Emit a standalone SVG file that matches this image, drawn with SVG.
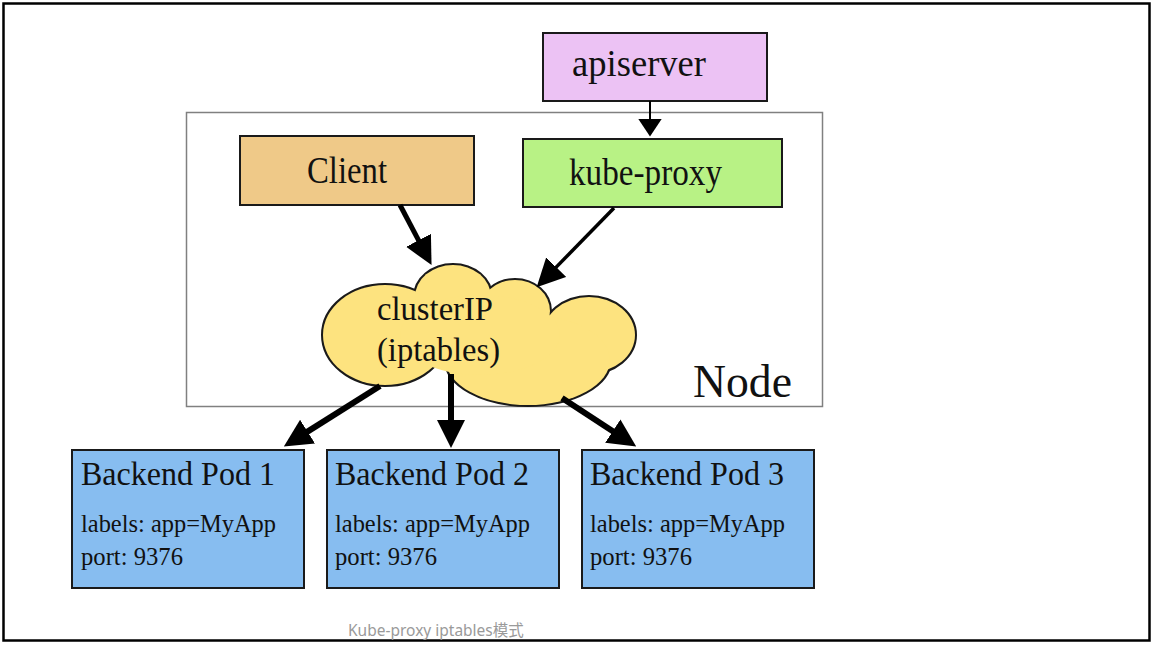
<svg xmlns="http://www.w3.org/2000/svg" width="1157" height="647" viewBox="0 0 1157 647">
<style>
.box{stroke:#1a1a1a;stroke-width:2}
.t{font-family:"Liberation Serif","Times New Roman",serif;fill:#111}
.edge{stroke:#000;fill:none}
.cap{font-family:"Noto Sans","Noto Sans CJK SC",sans-serif;font-size:15.5px;fill:#9a9a9a}
</style>
<defs>
<marker id="head" markerUnits="userSpaceOnUse" viewBox="0 0 28 28" markerWidth="28" markerHeight="28" refX="1" refY="14" orient="auto">
<path d="M0,0 L28,14 L0,28 z" fill="#000"/>
</marker>
<marker id="headSmall" markerUnits="userSpaceOnUse" viewBox="0 0 18 24" markerWidth="18" markerHeight="24" refX="1" refY="12" orient="auto">
<path d="M0,0 L18,12 L0,24 z" fill="#000"/>
</marker>
</defs>
<rect x="0" y="0" width="1157" height="647" fill="#fff"/>
<rect x="3.5" y="3.5" width="1146" height="637" fill="none" stroke="#000" stroke-width="2.5"/>

<g id="node-frame">
<rect x="186.5" y="112.5" width="636" height="294" fill="#fff" stroke="#808080" stroke-width="1.5"/>
<text class="t" x="693" y="397" font-size="46" textLength="99" lengthAdjust="spacingAndGlyphs">Node</text>
</g>

<g id="apiserver">
<rect class="box" x="543" y="33" width="224" height="68" fill="#ecc2f4"/>
<text class="t" x="572" y="76" font-size="37" textLength="134" lengthAdjust="spacingAndGlyphs">apiserver</text>
</g>

<g id="client">
<rect class="box" x="240" y="136" width="234" height="69" fill="#efc988"/>
<text class="t" x="307" y="183" font-size="37" textLength="80" lengthAdjust="spacingAndGlyphs">Client</text>
</g>

<g id="kube-proxy">
<rect class="box" x="523" y="139" width="259" height="68" fill="#b8f285"/>
<text class="t" x="569" y="185" font-size="37" textLength="153" lengthAdjust="spacingAndGlyphs">kube-proxy</text>
</g>

<g id="cluster-ip">
<g fill="none" stroke="#1a1a1a" stroke-width="4">
<ellipse cx="385" cy="335" rx="62" ry="50"/>
<ellipse cx="453" cy="297" rx="38" ry="32"/>
<ellipse cx="515" cy="311" rx="35" ry="31"/>
<ellipse cx="589" cy="335" rx="46" ry="38"/>
<ellipse cx="528" cy="360" rx="82" ry="45"/>
</g>
<g fill="#fde37f">
<ellipse cx="385" cy="335" rx="62" ry="50"/>
<ellipse cx="453" cy="297" rx="38" ry="32"/>
<ellipse cx="515" cy="311" rx="35" ry="31"/>
<ellipse cx="589" cy="335" rx="46" ry="38"/>
<ellipse cx="528" cy="360" rx="82" ry="45"/>
<ellipse cx="480" cy="335" rx="80" ry="40"/>
</g>
<text class="t" x="377" y="320" font-size="34" textLength="116" lengthAdjust="spacingAndGlyphs">clusterIP</text>
<text class="t" x="377" y="361" font-size="34" textLength="123" lengthAdjust="spacingAndGlyphs">(iptables)</text>
</g>

<g id="pod1">
<rect class="box" x="72" y="450" width="232" height="138" fill="#87bdf0"/>
<text class="t" x="81" y="485" font-size="33" textLength="194" lengthAdjust="spacingAndGlyphs">Backend Pod 1</text>
<text class="t" x="81" y="532" font-size="25" textLength="195" lengthAdjust="spacingAndGlyphs">labels: app=MyApp</text>
<text class="t" x="81" y="565" font-size="25" textLength="102" lengthAdjust="spacingAndGlyphs">port: 9376</text>
</g>
<g id="pod2">
<rect class="box" x="327" y="450" width="232" height="138" fill="#87bdf0"/>
<text class="t" x="335" y="485" font-size="33" textLength="194" lengthAdjust="spacingAndGlyphs">Backend Pod 2</text>
<text class="t" x="335" y="532" font-size="25" textLength="195" lengthAdjust="spacingAndGlyphs">labels: app=MyApp</text>
<text class="t" x="335" y="565" font-size="25" textLength="102" lengthAdjust="spacingAndGlyphs">port: 9376</text>
</g>
<g id="pod3">
<rect class="box" x="582" y="450" width="232" height="138" fill="#87bdf0"/>
<text class="t" x="590" y="485" font-size="33" textLength="194" lengthAdjust="spacingAndGlyphs">Backend Pod 3</text>
<text class="t" x="590" y="532" font-size="25" textLength="195" lengthAdjust="spacingAndGlyphs">labels: app=MyApp</text>
<text class="t" x="590" y="565" font-size="25" textLength="102" lengthAdjust="spacingAndGlyphs">port: 9376</text>
</g>

<g id="connectors">
<line class="edge" x1="650" y1="101" x2="650" y2="119.5" stroke-width="2" marker-end="url(#headSmall)"/>
<line class="edge" x1="400" y1="205" x2="419" y2="241.2" stroke-width="5" marker-end="url(#head)"/>
<line class="edge" x1="614" y1="208" x2="555.5" y2="267.9" stroke-width="3.5" marker-end="url(#head)"/>
<line class="edge" x1="380" y1="386" x2="306.7" y2="432.1" stroke-width="6" marker-end="url(#head)"/>
<line class="edge" x1="451" y1="374" x2="451" y2="421" stroke-width="6" marker-end="url(#head)"/>
<line class="edge" x1="562" y1="398" x2="613.6" y2="431.7" stroke-width="6" marker-end="url(#head)"/>
</g>

<text class="cap" x="348" y="636">Kube-proxy iptables模式</text>
</svg>
